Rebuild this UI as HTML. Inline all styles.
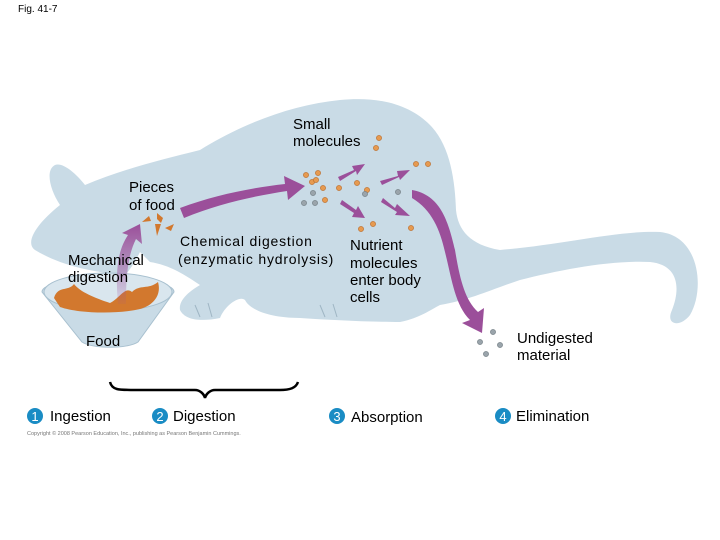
<!DOCTYPE html>
<html><head><meta charset="utf-8"><style>
html,body{margin:0;padding:0;background:#fff;}
svg{display:block;}
text{font-family:"Liberation Sans",sans-serif;fill:#000;}
</style></head><body>
<svg width="720" height="540" viewBox="0 0 720 540" xmlns="http://www.w3.org/2000/svg">
<defs>
<linearGradient id="mg" x1="0" y1="1" x2="0" y2="0">
<stop offset="0" stop-color="#9b4f9a" stop-opacity="0.1"/>
<stop offset="1" stop-color="#9b4f9a"/>
</linearGradient>
</defs>
<text x="18" y="12" font-size="10">Fig. 41-7</text>
<path fill="#c9dbe6" d="M60,205 C50,190 45,170 55,165 C62,162 75,172 85,185 C120,170 160,160 200,150 C240,125 290,105 340,100 C380,96 410,105 430,125 C450,145 455,180 456,210 C458,230 470,245 500,250 C560,245 620,230 660,232 C700,236 705,290 690,315 C680,328 665,325 672,310 C680,290 680,265 650,262 C610,260 560,270 520,280 C490,290 470,300 440,305 C430,310 420,318 400,322 C370,322 330,320 300,318 C270,318 250,310 245,300 C240,295 225,305 220,318 C200,322 185,320 180,310 C178,298 195,288 200,285 C185,275 170,265 150,262 L140,252 C135,262 130,270 125,275 C90,272 60,265 35,250 C25,243 35,225 60,205 Z"/>
<path d="M195,305 l5,12 M208,303 l4,14 M320,305 l5,12 M333,304 l4,13" stroke="#9fb6c4" stroke-width="1" fill="none"/>
<path fill="#c9dbe6" stroke="#a8c0cf" stroke-width="1" d="M42,292 C42,274 174,274 174,292 L138,342 C128,349 92,349 82,342 Z"/>
<ellipse cx="108" cy="292" rx="64" ry="19" fill="#d9e6ee" stroke="#a8c0cf"/>
<path fill="#d2782e" d="M54,298 C58,285 68,292 74,284 C80,292 95,298 110,303 C120,298 125,286 132,292 C140,284 148,290 158,282 C162,296 152,306 140,309 C120,314 80,314 60,307 Z"/>
<path d="M118,304 C115,270 118,250 128,235 L122,233 L140,224 L142,244 L136,239 C128,255 126,275 126,304 Z" fill="url(#mg)"/>
<g fill="#d2782e">
<path d="M142,222 l7,-6 l2,5 z"/><path d="M157,213 l6,5 l-2,5 l-4,-4 z"/><path d="M155,224 l6,0 l-4,12 z"/><path d="M165,228 l9,-4 l-3,7 z"/>
</g>
<path d="M180,208 C215,195 250,188 285,184 L284,176 L305,186 L288,200 L287,191 C255,196 220,203 184,218 Z" fill="#9b4f9a"/>
<g fill="#9b4f9a">
<path d="M338,177 L354,170 L352,166 L365,164 L357,175 L356,171 L340,181 Z"/>
<path d="M380,181 L398,176 L397,171 L410,170 L400,180 L399,177 L382,185 Z"/>
<path d="M342,200 L356,210 L358,206 L365,218 L352,217 L354,213 L340,204 Z"/>
<path d="M383,198 L395,208 L397,204 L410,216 L395,215 L397,212 L381,202 Z"/>
<path d="M412,190 C440,195 448,220 455,250 C460,280 465,300 478,312 L484,308 L482,333 L462,323 L470,320 C455,305 452,280 445,252 C440,230 432,210 412,198 Z"/>
</g>
<g fill="#e69a50" stroke="#b86a2a" stroke-width="0.6">
<circle cx="379" cy="138" r="2.6"/><circle cx="376" cy="148" r="2.6"/>
<circle cx="306" cy="175" r="2.6"/><circle cx="312" cy="182" r="2.6"/><circle cx="318" cy="173" r="2.6"/><circle cx="316" cy="180" r="2.6"/><circle cx="323" cy="188" r="2.6"/><circle cx="325" cy="200" r="2.6"/><circle cx="339" cy="188" r="2.6"/><circle cx="357" cy="183" r="2.6"/><circle cx="367" cy="190" r="2.6"/>
<circle cx="416" cy="164" r="2.6"/><circle cx="428" cy="164" r="2.6"/>
<circle cx="361" cy="229" r="2.6"/><circle cx="373" cy="224" r="2.6"/><circle cx="411" cy="228" r="2.6"/>
</g>
<g fill="#9aa4ab" stroke="#6f7a80" stroke-width="0.6">
<circle cx="313" cy="193" r="2.6"/><circle cx="304" cy="203" r="2.6"/><circle cx="315" cy="203" r="2.6"/><circle cx="365" cy="194" r="2.6"/><circle cx="398" cy="192" r="2.6"/>
<circle cx="493" cy="332" r="2.6"/><circle cx="480" cy="342" r="2.6"/><circle cx="500" cy="345" r="2.6"/><circle cx="486" cy="354" r="2.6"/>
</g>
<g font-size="15">
<text x="293" y="129">Small</text><text x="293" y="146">molecules</text>
<text x="129" y="192">Pieces</text><text x="129" y="210">of food</text>
<text x="68" y="265">Mechanical</text><text x="68" y="282">digestion</text>
<text x="350" y="250">Nutrient</text><text x="350" y="268">molecules</text><text x="350" y="285">enter body</text><text x="350" y="302">cells</text>
<text x="86" y="346">Food</text>
<text x="517" y="343">Undigested</text><text x="517" y="360">material</text>
</g>
<text x="180" y="246" font-size="14" letter-spacing="0.8">Chemical digestion</text>
<text x="178" y="264" font-size="14" letter-spacing="0.8">(enzymatic hydrolysis)</text>
<path d="M110,382 C112,390 118,390 135,390 L195,390 C200,390 204,394 205,398 C206,394 210,390 215,390 L280,390 C290,390 296,388 298,382" fill="none" stroke="#000" stroke-width="2.5"/>
<g font-size="15">
<circle cx="35" cy="416" r="8" fill="#1a8cc4"/><text x="35" y="421" font-size="13" text-anchor="middle" style="fill:#fff">1</text><text x="50" y="421">Ingestion</text>
<circle cx="160" cy="416" r="8" fill="#1a8cc4"/><text x="160" y="421" font-size="13" text-anchor="middle" style="fill:#fff">2</text><text x="173" y="421">Digestion</text>
<circle cx="337" cy="416" r="8" fill="#1a8cc4"/><text x="337" y="421" font-size="13" text-anchor="middle" style="fill:#fff">3</text><text x="351" y="422">Absorption</text>
<circle cx="503" cy="416" r="8" fill="#1a8cc4"/><text x="503" y="421" font-size="13" text-anchor="middle" style="fill:#fff">4</text><text x="516" y="421">Elimination</text>
</g>
<text x="27" y="435" font-size="5.5" style="fill:#777">Copyright © 2008 Pearson Education, Inc., publishing as Pearson Benjamin Cummings.</text>
</svg>
</body></html>
